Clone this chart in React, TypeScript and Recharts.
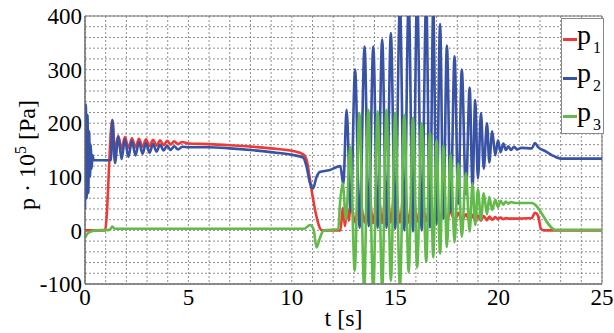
import React from 'react';
import { LineChart, Line, XAxis, YAxis, CartesianGrid, ReferenceArea } from 'recharts';

const RED = '#ee3a36';
const BLUE = '#3853a6';
const GREEN = '#62ba4a';
const FONT = "'Liberation Serif', 'Times New Roman', Times, 'Liberation Sans', Arimo, sans-serif";

const xTicks = [0, 1, 2, 3, 4, 5, 6, 7, 8, 9, 10, 11, 12, 13, 14, 15, 16, 17, 18, 19, 20, 21, 22, 23, 24, 25];
const yTicks = [-100, -80, -60, -40, -20, 0, 20, 40, 60, 80, 100, 120, 140, 160, 180, 200, 220, 240, 260, 280, 300, 320, 340, 360, 380, 400];
const xLabeled = [0, 5, 10, 15, 20, 25];
const yLabeled = [-100, 0, 100, 200, 300, 400];

const seriesNames = ['p1', 'p2', 'p3'];

// [t (s), p (1e5 Pa)]
const p1: [number, number][] = [
  [0, 0], [0.97, 0], [1.32, 206], [1.45, 150], [1.61, 176], [1.77, 152], [1.93, 174], [2.1, 154],
  [2.27, 172], [2.44, 155], [2.61, 171], [2.78, 156], [2.95, 170], [3.12, 157], [3.29, 169], [3.46, 158],
  [3.63, 168], [3.8, 159], [3.97, 167], [4.14, 160], [4.31, 166], [4.5, 161], [4.7, 165], [5, 162],
  [6, 161], [7, 159], [7.8, 157], [9, 153], [10.07, 148], [10.55, 142], [10.72, 131], [10.88, 94],
  [11.04, 56], [11.2, 25], [11.36, 4], [11.45, 0], [12.35, 0], [12.47, 42], [12.57, 8], [12.68, 42],
  [12.76, 18], [12.85, 50], [13.06, 15], [13.28, 60], [13.52, 15], [13.72, 70], [13.94, 14], [14.15, 80],
  [14.37, 14], [14.58, 90], [14.79, 15], [15.0, 85], [15.23, 15], [15.44, 80], [15.65, 15], [15.86, 70],
  [16.06, 16], [16.28, 60], [16.5, 17], [16.68, 50], [16.84, 18], [17.0, 45], [17.17, 18], [17.33, 40],
  [17.5, 18], [17.68, 36], [17.87, 17], [18.05, 33], [18.22, 17], [18.42, 30], [18.6, 17], [18.74, 29],
  [18.87, 18], [19.0, 28], [19.15, 18], [19.28, 27], [19.44, 19], [19.55, 26], [19.69, 20], [19.84, 25],
  [19.97, 21], [20.1, 24], [20.23, 21], [20.35, 23], [20.47, 22], [20.7, 22], [21.6, 23], [21.76, 33],
  [21.9, 28], [22.05, 3], [22.2, 0], [25, 0],
];

const p2: [number, number][] = [
  [0, 40], [0.04, 235], [0.08, 60], [0.12, 215], [0.16, 70], [0.2, 185], [0.24, 100], [0.28, 160],
  [0.32, 115], [0.36, 140], [0.42, 131], [1.25, 131], [1.32, 206], [1.45, 126], [1.61, 175], [1.77, 133],
  [1.93, 170], [2.1, 137], [2.27, 167], [2.44, 140], [2.61, 165], [2.78, 143], [2.95, 163], [3.12, 145],
  [3.29, 161], [3.46, 147], [3.63, 160], [3.8, 149], [3.97, 158], [4.14, 150], [4.31, 157], [4.5, 151],
  [4.7, 156], [5, 155], [6, 155], [7, 153], [8, 150], [9, 146], [10, 141], [10.55, 136],
  [10.72, 118], [10.88, 88], [11.02, 78], [11.2, 100], [11.35, 109], [11.8, 112], [12.35, 120], [12.49, 85],
  [12.65, 225], [12.85, 35], [13.06, 300], [13.28, 5], [13.52, 343], [13.72, 8], [13.94, 343], [14.15, 5],
  [14.37, 356], [14.58, 5], [14.79, 368], [15.0, 3], [15.23, 420], [15.44, 0], [15.65, 430], [15.86, -2],
  [16.06, 440], [16.28, 0], [16.5, 430], [16.68, 5], [16.84, 415], [17.0, 12], [17.17, 385], [17.33, 22],
  [17.5, 345], [17.68, 35], [17.87, 325], [18.05, 50], [18.22, 300], [18.42, 68], [18.6, 266], [18.74, 80],
  [18.87, 243], [19.0, 97], [19.15, 219], [19.28, 115], [19.44, 200], [19.55, 127], [19.69, 185], [19.84, 140],
  [19.97, 168], [20.1, 146], [20.23, 162], [20.35, 150], [20.47, 157], [20.6, 150], [20.75, 156], [20.9, 151],
  [21.1, 154], [21.6, 153], [21.76, 163], [21.9, 156], [22.3, 147], [22.7, 138], [23.0, 134], [25, 134],
];

const p3: [number, number][] = [
  [0, -14], [0.15, -5], [0.5, 0], [1.2, 1], [1.32, 7], [1.45, 3], [10.6, 3], [10.88, 10],
  [11.05, 2], [11.2, -32], [11.35, -15], [11.55, 0], [12.25, 2], [12.33, 50], [12.46, 88], [12.62, 20],
  [12.83, 156], [13.04, -75], [13.27, 219], [13.5, -110], [13.7, 225], [13.94, -115], [14.15, 222], [14.37, -108],
  [14.58, 225], [14.79, -94], [15.0, 220], [15.23, -105], [15.44, 215], [15.65, -78], [15.86, 210], [16.06, -69],
  [16.28, 200], [16.5, -59], [16.68, 182], [16.84, -50], [17.0, 168], [17.17, -43], [17.33, 158], [17.5, -31],
  [17.68, 143], [17.87, -22], [18.05, 125], [18.22, -12], [18.42, 107], [18.6, -2], [18.74, 88], [18.87, 10],
  [19.0, 76], [19.15, 20], [19.28, 69], [19.44, 30], [19.55, 62], [19.69, 38], [19.84, 57], [19.97, 44],
  [20.1, 55], [20.23, 48], [20.35, 54], [20.47, 50], [20.6, 53], [20.8, 51], [21.6, 51], [22.75, 1],
  [25, 1],
];

const toRows = (s: [number, number][]) => s.map(([t, v]) => ({ t, v }));
const d1 = toRows(p1);
const d2 = toRows(p2);
const d3 = toRows(p3);

const legendItems = [
  { name: seriesNames[0], color: RED },
  { name: seriesNames[1], color: BLUE },
  { name: seriesNames[2], color: GREEN },
];

const LegendBox = () => (
  <div
    style={{
      position: 'absolute',
      left: 561,
      top: 18,
      width: 41,
      height: 114,
      border: '1px solid #8a8a8a',
      background: '#fff',
      fontFamily: FONT,
      color: '#000',
      boxSizing: 'content-box',
    }}
  >
    {legendItems.map((it, i) => {
      const base = 25 + i * 38.5;
      return (
        <React.Fragment key={it.name}>
          <div style={{ position: 'absolute', left: 1, top: base - 6, width: 14, height: 3, background: it.color }} />
          <span style={{ position: 'absolute', left: 15, top: base - 23.4, fontSize: 28, lineHeight: '28px' }}>
            {it.name.charAt(0)}
          </span>
          <span style={{ position: 'absolute', left: 31, top: base - 4.4, fontSize: 16, lineHeight: '16px' }}>
            {it.name.slice(1)}
          </span>
        </React.Fragment>
      );
    })}
  </div>
);

const YLabel = () => (
  <text
    x={35}
    y={155}
    transform="rotate(-90 35 155)"
    textAnchor="middle"
    fontSize={24}
    fontFamily={FONT}
    fill="#000"
  >
    p · 10
    <tspan dy={-9} fontSize={16}>5</tspan>
    <tspan dy={9}> [Pa]</tspan>
  </text>
);

const XLabel = (props: any) => {
  const vb = props.viewBox || { x: 85, y: 284, width: 517, height: 49 };
  return (
    <text x={vb.x + vb.width / 2} y={vb.y + 42} textAnchor="middle" fontSize={24} fontFamily={FONT} fill="#000">
      t [s]
    </text>
  );
};

export default function App() {
  return (
    <div style={{ position: 'absolute', left: 0, top: 0, width: 614, height: 333, fontFamily: FONT }}>
      <LineChart width={614} height={333} margin={{ top: 16, right: 12, bottom: 0, left: 0 }}>
        <CartesianGrid stroke="#8f8f8f" strokeDasharray="2 2" strokeWidth={1} />
        <XAxis
          dataKey="t"
          type="number"
          domain={[0, 25]}
          ticks={xTicks}
          interval={0}
          allowDataOverflow
          tickFormatter={(v: number) => (xLabeled.includes(v) ? String(v) : '')}
          tick={{ fontSize: 23, fill: '#000', fontFamily: FONT }}
          tickLine={false}
          tickSize={0}
          tickMargin={5}
          axisLine={{ stroke: '#666' }}
          height={49}
          label={XLabel}
        />
        <YAxis
          type="number"
          domain={[-100, 400]}
          ticks={yTicks}
          interval={0}
          allowDataOverflow
          tickFormatter={(v: number) => (yLabeled.includes(v) ? String(v) : '')}
          tick={{ fontSize: 23, fill: '#000', fontFamily: FONT }}
          tickLine={false}
          tickSize={0}
          tickMargin={3}
          axisLine={{ stroke: '#666' }}
          width={85}
          label={YLabel}
        />
        <ReferenceArea x1={0} x2={25} y1={-100} y2={400} fill="none" stroke="#777" strokeWidth={1} ifOverflow="visible" />
        <Line data={d1} dataKey="v" name={seriesNames[0]} type="monotone" stroke={RED} strokeWidth={2.6} dot={false} isAnimationActive={false} />
        <Line data={d2} dataKey="v" name={seriesNames[1]} type="monotone" stroke={BLUE} strokeWidth={2.6} dot={false} isAnimationActive={false} />
        <Line data={d3} dataKey="v" name={seriesNames[2]} type="monotone" stroke={GREEN} strokeWidth={2.6} dot={false} isAnimationActive={false} />
      </LineChart>
      <LegendBox />
    </div>
  );
}
